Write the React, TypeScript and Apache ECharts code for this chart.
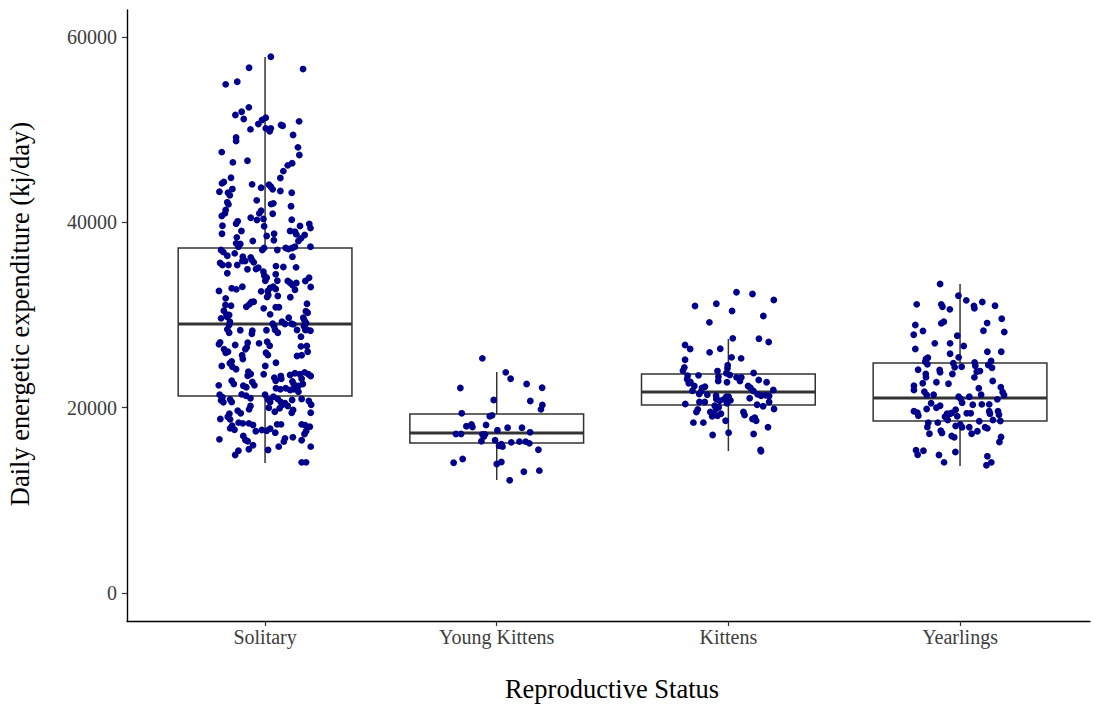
import React, { useEffect, useRef } from "react";
import * as echarts from "echarts";

const categories = ["Solitary", "Young Kittens", "Kittens", "Yearlings"];
const whiskerLow = [14030, 12190, 15320, 13700];
const quartile1 = [21260, 16190, 20290, 18560];
const medians = [29030, 17260, 21690, 21040];
const quartile3 = [37230, 19310, 23630, 24820];
const whiskerHigh = [57830, 23850, 27410, 33340];
const yTicks = [0, 20000, 40000, 60000];

// [jitter (category units), kj/day]
const solitary: [number, number][] = [
  [0.025,57870],[-0.069,56680],[0.164,56540],[-0.170,54890],[-0.120,55170],[-0.070,52410],[-0.101,51930],[-0.128,51580],[-0.092,51150],[-0.029,50610],[-0.013,51040],[0.003,51290],[-0.063,50030],[0.003,50140],[0.025,50140],[0.020,49820],[0.069,50500],[0.076,50420],[0.147,50900],[0.121,49420],[-0.125,49170],[-0.125,48770],[0.142,48090],[-0.187,47580],[0.148,47260],
  [-0.139,46470],[-0.076,46650],[0.117,46370],[0.098,46150],[0.079,45530],[-0.147,44810],[-0.186,44210],[-0.178,44350],[-0.056,44100],[-0.017,43730],[0.017,44060],[0.025,43840],[0.033,43560],[0.066,44780],[-0.141,43590],[-0.160,43190],[-0.152,42910],[-0.197,43300],[0.066,43380],[0.115,43190],[-0.163,42160],[-0.158,41940],[-0.036,42370],[0.026,41970],[0.036,42050],[0.112,41730],[-0.017,41250],[-0.025,40970],[-0.170,41330],[-0.173,40970],[0.033,40930],[-0.187,40680],[-0.062,40500],[-0.035,40250],[-0.007,40360],[0.115,40280],[-0.118,40110],[-0.125,39850],[-0.184,39630],[-0.004,39570],[0.191,39820],[0.196,39380],[0.151,39600],[-0.102,39060],[-0.186,38770],[0.108,39060],[0.129,38980],[0.135,38700],[0.039,38770],[0.171,38630],[0.007,38520],[-0.053,37980],[-0.122,38380],[-0.125,37730],[-0.107,37660],[-0.115,37370],[0.038,38060],[0.155,38270],[0.144,37980],[0.196,37370],[-0.004,37230],[-0.012,37010],[0.101,37120],[0.117,37230],[0.129,37370],[0.089,37230],[-0.190,37010],[-0.180,36790],[-0.131,36650],[-0.163,36400],[-0.096,36290],[-0.062,36220],[0.053,37010],[0.118,36290],
  [-0.194,35610],[-0.184,35390],[-0.098,35820],[-0.086,35820],[-0.057,35930],[-0.049,35680],[-0.158,35390],[-0.120,35390],[-0.163,34500],[-0.076,34930],[-0.039,34960],[-0.029,35100],[-0.007,34670],[0.047,35280],[0.079,35180],[0.134,35140],[0.046,34390],[-0.003,34240],[0.007,34020],[0.001,33700],[0.053,33700],[0.098,33670],[0.108,33480],[0.118,33230],[0.135,33450],[0.190,34020],[0.197,33020],[0.174,33670],[-0.144,32880],[-0.124,32770],[-0.098,33050],[-0.199,32590],[-0.017,32550],[0.012,32590],[0.022,32910],[0.035,33050],[0.046,32800],[0.014,32150],[0.009,31940],[0.055,32050],[0.129,32730],[0.109,31910],[-0.170,31800],[-0.059,31400],[-0.068,31150],[-0.081,30890],[-0.049,31430],[0.181,31220],[-0.006,30720],[0.046,30830],[0.060,30830],[-0.171,31080],[-0.147,31000],[-0.178,30460],[-0.167,30070],[-0.155,30000],[-0.190,29640],[-0.164,29810],[0.022,30070],[0.176,30400],[0.184,30240],[0.165,29710],[0.170,29420],[0.177,29130],[0.102,29710],[0.073,29270],[0.086,29030],[-0.152,29270],[-0.155,28920],[-0.163,28450],[-0.155,28090],[-0.107,28350],[0.033,29060],[0.039,28780],[0.043,28410],[0.055,28090],[0.006,28350],[0.114,29060],[0.122,28990],[0.138,28380],[0.168,28780],[0.174,28380],[0.181,28410],[0.196,28300],[0.155,27660],[-0.055,28300],[-0.057,27980],[-0.026,26940],[-0.075,27010],[-0.079,26510],[-0.085,26300],[-0.129,26760],[-0.194,27050],[-0.199,26840],[-0.177,26300],[-0.170,25930],[-0.160,26040],[0.009,27120],[0.020,26680],[0.004,25930],[0.012,25680],[-0.099,25650],[-0.096,25250],[-0.144,25000],[0.138,25570],[0.158,25650],[0.155,26620],[0.180,26650],[0.184,26040],[0.047,24850],
  [-0.187,24490],[-0.152,24790],[-0.141,24420],[0.001,24490],[-0.125,24140],[-0.072,23880],[-0.075,23450],[-0.062,23630],[-0.200,22410],[-0.144,22910],[-0.135,22550],[-0.094,22370],[-0.081,22200],[-0.055,22770],[-0.046,22410],[-0.006,23600],[0.040,23230],[0.046,22910],[0.068,23410],[0.070,23120],[0.108,23520],[0.129,23710],[0.150,23600],[0.158,23120],[0.171,23810],[0.187,23600],[0.197,23410],[0.118,22840],[0.124,22520],[0.144,22340],[0.163,22550],[0.047,22090],[0.066,21980],[0.089,22090],[0.108,21900],[0.124,21980],[0.144,21720],[-0.196,21400],[-0.184,21120],[-0.190,20790],[-0.180,20580],[-0.151,20900],[-0.144,20610],[-0.101,21440],[-0.082,21290],[-0.063,21010],[0.000,21400],[0.012,20900],[0.022,20610],[0.036,21180],[0.055,20930],[0.068,20610],[0.075,20320],[0.086,20470],[0.063,19930],[0.098,20180],[0.117,20830],[0.158,20930],[0.189,20720],[0.199,20320],[-0.063,20180],[-0.069,19820],[-0.118,19670],[-0.105,19390],[-0.154,19350],[-0.161,19020],[-0.151,18740],[0.016,19990],[0.042,19560],[0.121,19750],[0.115,19450],[0.197,19450],[-0.193,18780],[-0.114,18380],[-0.096,18310],[-0.070,18310],[-0.052,18130],[-0.142,18050],[-0.151,17770],[-0.132,17620],[0.052,18200],[0.069,18200],[0.158,18200],[0.173,18100],[0.193,17940],[-0.040,17450],[-0.014,17590],[0.007,17510],[0.022,17730],[0.044,17300],[0.177,17450],[0.170,17160],[-0.094,16940],[-0.085,16510],[-0.075,16370],[-0.197,16580],[-0.052,15940],[0.120,16800],[0.086,16690],[0.081,16330],[0.158,16480],[-0.070,15510],[0.013,15430],[0.059,15790],[0.197,15790],[-0.115,15350],[-0.129,14890],[0.158,14100],[0.177,14100],
];

const youngKittens: [number, number][] = [
  [-0.062,25320],[0.039,23810],[0.060,23120],[-0.157,22120],[0.129,22550],[0.196,22150],[-0.013,20830],[0.145,20720],[0.197,20290],[0.191,19820],[-0.151,19390],[-0.030,19070],[-0.020,19170],[-0.131,17990],[-0.109,18200],[-0.105,17910],[-0.046,18130],[0.047,17840],[0.109,17840],[-0.176,17160],[-0.154,17160],[-0.062,17120],[-0.050,17120],[-0.056,16870],[0.003,17560],[0.144,17340],[-0.066,16370],[-0.007,16480],[0.010,15890],[0.020,16050],[0.025,15790],[0.063,16260],[0.098,16330],[0.125,16330],[0.141,16150],[0.180,15460],[-0.186,14060],[-0.147,14460],[0.000,13920],[0.020,14140],[0.117,13090],[0.184,13200],[0.056,12160],
];

const kittens: [number, number][] = [
  [0.035,32450],[0.104,32260],[0.196,31620],[-0.144,30970],[-0.052,31220],[0.016,30430],[0.151,29890],[-0.082,29210],[-0.187,26760],[-0.165,26330],[0.019,27480],[0.132,27440],[0.174,27080],[-0.081,25970],[-0.035,26360],[-0.187,25170],[0.014,25430],[0.055,25320],[-0.190,24350],[-0.196,23990],[-0.003,24570],[-0.004,24250],[-0.176,23450],[-0.129,23490],[-0.047,23950],[-0.043,23340],[0.006,23520],[0.109,23740],[-0.009,23710],[0.035,23270],[0.056,23270],[0.050,22880],[-0.178,23060],[-0.171,22630],[-0.164,22770],[-0.147,22340],[-0.114,22120],[-0.101,22260],[-0.155,21830],[-0.117,21760],[-0.126,21470],[-0.091,21400],[-0.044,22880],[-0.006,22740],[0.085,22340],[0.095,22150],[0.131,22980],[0.165,22740],[0.108,21800],[0.126,21440],[0.141,21290],[0.161,21330],[0.176,21260],[0.194,21900],[-0.053,21290],[-0.052,20930],[-0.038,20750],[-0.020,20900],[-0.009,21180],[0.001,21180],[0.009,20790],[-0.006,20470],[0.092,21010],[0.124,20320],[0.150,20150],[0.176,20610],[-0.186,20390],[-0.125,20610],[-0.102,20610],[-0.059,20210],[-0.053,19890],[-0.042,20040],[-0.132,19820],[-0.138,19530],[0.197,19850],[-0.078,19530],[-0.063,19310],[-0.047,19130],[-0.032,19350],[-0.070,19070],[0.065,19530],[0.070,19210],[0.104,18780],[0.114,18920],[0.120,18590],[-0.012,18590],[-0.151,18380],[-0.108,18380],[0.171,17880],[0.001,17300],[0.109,17160],[-0.068,17050],[0.139,15430],[0.141,15290],
];

const yearlings: [number, number][] = [
  [-0.086,33340],[-0.007,32080],[-0.187,31150],[-0.081,31150],[-0.076,30890],[-0.044,30610],[0.027,31580],[0.060,30970],[0.062,30720],[0.096,31400],[0.151,31000],[0.180,29600],[-0.193,28920],[-0.200,27870],[-0.160,28270],[-0.081,29100],[-0.070,29270],[0.117,29130],[0.101,28300],[0.191,28160],[-0.012,27760],[-0.193,26330],[-0.109,26940],[-0.043,26940],[0.016,26650],[-0.043,25820],[-0.006,25430],[0.118,26040],[0.178,26040],[-0.147,25250],[-0.139,25390],[-0.150,24960],[-0.141,24680],[-0.029,24790],[-0.023,24350],[0.007,24420],[0.063,24890],[0.066,24530],[0.134,25030],[0.122,24600],[0.138,24310],[-0.181,24090],[-0.088,24060],[-0.086,23810],[-0.033,23630],[-0.148,23630],[0.086,23950],[0.072,23880],[-0.147,23270],[0.062,23270],[-0.199,22370],[-0.199,21900],[-0.161,22630],[-0.102,22740],[-0.050,22580],[0.141,22880],[0.176,22200],[0.184,21660],[0.190,21360],[-0.154,21720],[-0.144,21360],[-0.114,21400],[0.081,22090],[0.091,21400],[-0.006,21180],[0.003,20930],[0.009,20530],[0.040,21180],[0.161,20900],[-0.125,20470],[-0.102,19990],[-0.086,20210],[-0.144,19850],[0.055,20320],[0.094,20360],[0.126,20360],[-0.199,19610],[-0.184,19450],[-0.180,19130],[-0.056,19350],[-0.043,19350],[-0.036,19420],[-0.065,19020],[-0.053,18670],[-0.019,19780],[-0.012,19070],[0.029,19390],[0.046,19390],[0.126,19610],[0.129,19350],[0.164,19610],[0.168,19240],[0.174,18560],[0.142,18670],[0.083,18530],[-0.137,18380],[-0.141,17910],[-0.096,18380],[-0.019,18020],[0.001,18200],[0.009,17880],[0.040,17880],[0.108,17880],[0.118,17770],[-0.083,17510],[-0.078,17260],[-0.132,17190],[0.075,17450],[0.050,17190],[-0.036,16940],[-0.025,16800],[0.177,16830],[0.170,16290],[-0.190,15400],[-0.183,14920],[-0.158,15350],[-0.020,15210],[-0.091,14890],[-0.069,14100],[0.118,14750],[0.135,14100],[0.114,13780],
];

const groups = [solitary, youngKittens, kittens, yearlings];

export default function App() {
  const ref = useRef<HTMLDivElement>(null);
  useEffect(() => {
    if (!ref.current) return;
    const chart = echarts.init(ref.current, null, { renderer: "svg" });
    const boxData = categories.map((_, i) => [
      i + 1, whiskerLow[i], quartile1[i], medians[i], quartile3[i], whiskerHigh[i],
    ]);
    const pointData: number[][] = [];
    groups.forEach((g, i) => g.forEach(([j, v]) => pointData.push([i + 1 + j, v])));
    const stroke = "#333333";
    const font = "'Liberation Serif', 'Times New Roman', serif";
    chart.setOption({
      animation: false,
      grid: { left: 127, right: 4, top: 10, bottom: 83 },
      xAxis: {
        type: "value",
        min: 0.404,
        max: 4.561,
        splitLine: { show: false },
        axisLine: { show: true, onZero: false, lineStyle: { color: "#000", width: 1.4 } },
        axisTick: { show: true, length: 5, customValues: [1, 2, 3, 4], lineStyle: { color: "#333", width: 1.2 } },
        axisLabel: {
          customValues: [1, 2, 3, 4],
          formatter: (v: number) => categories[Math.round(v) - 1] ?? "",
          color: "#3d3d3d",
          fontFamily: font,
          fontSize: 20,
          margin: 6,
        },
      },
      yAxis: {
        type: "value",
        min: -3022,
        max: 62914,
        splitLine: { show: false },
        axisLine: { show: true, onZero: false, lineStyle: { color: "#000", width: 1.4 } },
        axisTick: { show: true, length: 5, customValues: yTicks, lineStyle: { color: "#333", width: 1.2 } },
        axisLabel: {
          customValues: yTicks,
          formatter: (v: number) => String(v),
          color: "#3d3d3d",
          fontFamily: font,
          fontSize: 20,
          margin: 10,
        },
      },
      graphic: [
        {
          type: "text",
          x: 20,
          y: 314,
          rotation: Math.PI / 2,
          style: {
            text: "Daily energetic expenditure (kj/day)",
            font: `26.5px ${font}`,
            fill: "#000",
            align: "center",
            verticalAlign: "middle",
          },
        },
        {
          type: "text",
          x: 612,
          y: 689,
          style: {
            text: "Reproductive Status",
            font: `26.5px ${font}`,
            fill: "#000",
            align: "center",
            verticalAlign: "middle",
          },
        },
      ],
      series: [
        {
          type: "custom",
          z: 1,
          encode: { x: 0, y: [1, 2, 3, 4, 5] },
          data: boxData,
          renderItem: (params: any, api: any) => {
            const x = api.value(0);
            const half = 0.375;
            const pLow = api.coord([x, api.value(1)]);
            const pQ1 = api.coord([x, api.value(2)]);
            const pMed = api.coord([x, api.value(3)]);
            const pQ3 = api.coord([x, api.value(4)]);
            const pHigh = api.coord([x, api.value(5)]);
            const left = api.coord([x - half, api.value(4)])[0];
            const right = api.coord([x + half, api.value(4)])[0];
            return {
              type: "group",
              children: [
                { type: "line", shape: { x1: pLow[0], y1: pLow[1], x2: pQ1[0], y2: pQ1[1] }, style: { stroke, lineWidth: 1.5 } },
                { type: "line", shape: { x1: pQ3[0], y1: pQ3[1], x2: pHigh[0], y2: pHigh[1] }, style: { stroke, lineWidth: 1.5 } },
                { type: "rect", shape: { x: left, y: pQ3[1], width: right - left, height: pQ1[1] - pQ3[1] }, style: { fill: "#fff", stroke, lineWidth: 1.5 } },
                { type: "line", shape: { x1: left, y1: pMed[1], x2: right, y2: pMed[1] }, style: { stroke, lineWidth: 3 } },
              ],
            };
          },
        },
        {
          type: "scatter",
          z: 2,
          data: pointData,
          symbol: "circle",
          symbolSize: 6.8,
          itemStyle: { color: "#00008B", opacity: 1 },
        },
      ],
    });
    return () => chart.dispose();
  }, []);
  return (
    <div
      ref={ref}
      style={{ position: "fixed", left: 0, top: 0, width: 1094, height: 704, background: "#fff" }}
    />
  );
}
